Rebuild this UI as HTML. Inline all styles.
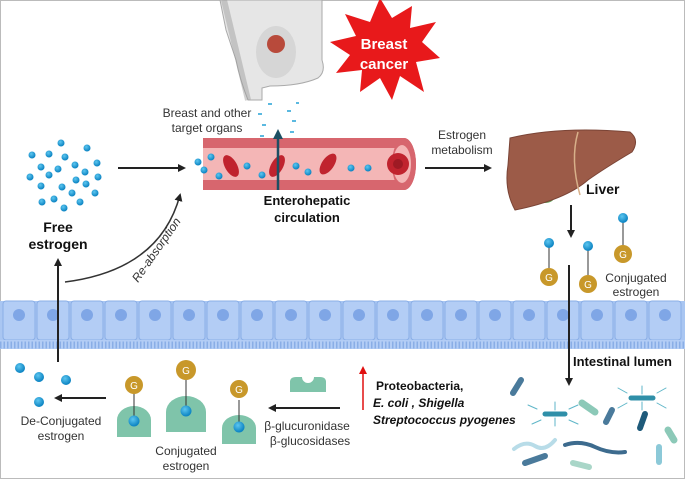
<!DOCTYPE html>
<html><head><meta charset="utf-8"><style>
html,body{margin:0;padding:0;background:#fff}
svg{display:block;font-family:"Liberation Sans",sans-serif}
</style></head><body>
<svg width="685" height="479" viewBox="0 0 685 479" xmlns="http://www.w3.org/2000/svg">
<defs>
<marker id="ah" markerWidth="8" markerHeight="8" refX="6" refY="4" orient="auto" markerUnits="userSpaceOnUse"><path d="M0,0 L8,4 L0,8 Z" fill="#222"/></marker>
<marker id="ahb" markerWidth="10" markerHeight="10" refX="7" refY="5" orient="auto" markerUnits="userSpaceOnUse"><path d="M0,0 L10,5 L0,10 Z" fill="#1d4f63"/></marker>
<marker id="ahr" markerWidth="8" markerHeight="8" refX="6" refY="4" orient="auto" markerUnits="userSpaceOnUse"><path d="M0,0 L8,4 L0,8 Z" fill="#e01010"/></marker>
<radialGradient id="dot" cx="40%" cy="35%" r="60%"><stop offset="0" stop-color="#5cc6f0"/><stop offset="1" stop-color="#0f86c4"/></radialGradient>
</defs>
<rect x="0.5" y="0.5" width="684" height="478" fill="#fff" stroke="#bbb"/>

<!-- breast -->
<path d="M220,0 L322,0 L322,60 Q326,72 318,78 Q300,86 270,86 L262,88 L262,100 L248,100 Q240,80 236,60 L226,30 Z" fill="#e6e6e6" stroke="#aaa"/>
<path d="M224,0 L236,50 L248,100" fill="none" stroke="#999" stroke-width="6" opacity="0.45"/>
<ellipse cx="276" cy="52" rx="20" ry="26" fill="#d6d6d6"/>
<circle cx="276" cy="44" r="9" fill="#b84a3b"/>
<!-- starburst -->
<polygon fill="#e8191b" points="380,-2 392,18 412,6 410,28 436,22 422,42 440,58 416,62 424,92 400,76 392,100 380,78 360,92 362,70 336,73 350,55 330,42 356,36 345,14 370,22" />
<text x="384" y="49" fill="#fff" font-weight="bold" font-size="15" text-anchor="middle">Breast</text>
<text x="384" y="69" fill="#fff" font-weight="bold" font-size="15" text-anchor="middle">cancer</text>

<!-- scatter dashes -->
<g fill="#5bb9e0">
<rect x="258" y="113" width="4" height="2"/><rect x="262" y="124" width="4" height="2"/><rect x="260" y="135" width="4" height="2"/><rect x="268" y="103" width="4" height="2"/><rect x="292" y="120" width="4" height="2"/><rect x="290" y="131" width="4" height="2"/><rect x="287" y="110" width="4" height="2"/><rect x="296" y="102" width="3" height="2"/><rect x="265" y="145" width="4" height="2"/><rect x="287" y="145" width="4" height="2"/><rect x="272" y="165" width="4" height="2"/>
</g>

<text x="207" y="117" font-size="12" fill="#333" text-anchor="middle">Breast and other</text>
<text x="207" y="132" font-size="12" fill="#333" text-anchor="middle">target organs</text>

<!-- vessel -->
<path d="M203,138 H404 A12,26 0 0 1 404,190 H203 Z" fill="#d7666e"/>
<rect x="203" y="148" width="200" height="32" fill="#f4b6b6"/>
<ellipse cx="404" cy="164" rx="12" ry="26" fill="#d7666e"/>
<ellipse cx="402" cy="164" rx="9" ry="19" fill="#f4b6b6"/>
<circle cx="398" cy="164" r="11" fill="#c0232e"/><circle cx="398" cy="164" r="5" fill="#9e1a24"/>
<g fill="#c0232e">
<ellipse cx="231" cy="166" rx="6" ry="12" transform="rotate(-30 231 166)"/>
<ellipse cx="277" cy="166" rx="6" ry="12" transform="rotate(30 277 166)"/>
<ellipse cx="328" cy="164" rx="6" ry="12" transform="rotate(35 328 164)"/>
</g>
<g fill="url(#dot)">
<circle cx="198" cy="162" r="3.5"/><circle cx="211" cy="157" r="3.5"/><circle cx="204" cy="170" r="3.5"/><circle cx="219" cy="176" r="3.5"/><circle cx="247" cy="166" r="3.5"/><circle cx="262" cy="175" r="3.5"/><circle cx="296" cy="166" r="3.5"/><circle cx="308" cy="172" r="3.5"/><circle cx="351" cy="168" r="3.5"/><circle cx="368" cy="168" r="3.5"/>
</g>
<line x1="278" y1="190" x2="278" y2="132" stroke="#1d4f63" stroke-width="2.5" marker-end="url(#ahb)"/>
<text x="307" y="205" font-size="13" font-weight="bold" fill="#111" text-anchor="middle">Enterohepatic</text>
<text x="307" y="222" font-size="13" font-weight="bold" fill="#111" text-anchor="middle">circulation</text>

<!-- free estrogen dots -->
<g fill="url(#dot)">
<circle cx="61" cy="143" r="3.5"/><circle cx="87" cy="148" r="3.5"/><circle cx="32" cy="155" r="3.5"/><circle cx="49" cy="154" r="3.5"/><circle cx="65" cy="157" r="3.5"/><circle cx="75" cy="165" r="3.5"/><circle cx="97" cy="163" r="3.5"/><circle cx="41" cy="167" r="3.5"/><circle cx="58" cy="169" r="3.5"/><circle cx="85" cy="172" r="3.5"/><circle cx="98" cy="177" r="3.5"/><circle cx="30" cy="177" r="3.5"/><circle cx="49" cy="175" r="3.5"/><circle cx="76" cy="180" r="3.5"/><circle cx="41" cy="186" r="3.5"/><circle cx="62" cy="187" r="3.5"/><circle cx="86" cy="184" r="3.5"/><circle cx="95" cy="193" r="3.5"/><circle cx="54" cy="199" r="3.5"/><circle cx="72" cy="193" r="3.5"/><circle cx="42" cy="202" r="3.5"/><circle cx="80" cy="202" r="3.5"/><circle cx="64" cy="208" r="3.5"/>
</g>
<line x1="118" y1="168" x2="184" y2="168" stroke="#222" stroke-width="2" marker-end="url(#ah)"/>

<text x="58" y="232" font-size="14" font-weight="bold" fill="#111" text-anchor="middle">Free</text>
<text x="58" y="249" font-size="14" font-weight="bold" fill="#111" text-anchor="middle">estrogen</text>

<!-- re-absorption -->
<path d="M65,282 Q160,270 180,195" fill="none" stroke="#333" stroke-width="1.5" marker-end="url(#ah)"/>
<text x="0" y="0" font-size="12" font-style="italic" fill="#333" transform="translate(138,283) rotate(-55)">Re-absorption</text>

<!-- estrogen metabolism -->
<text x="462" y="139" font-size="12" fill="#333" text-anchor="middle">Estrogen</text>
<text x="462" y="154" font-size="12" fill="#333" text-anchor="middle">metabolism</text>
<line x1="425" y1="168" x2="490" y2="168" stroke="#222" stroke-width="2" marker-end="url(#ah)"/>

<!-- liver -->
<ellipse cx="545" cy="196" rx="10" ry="7" fill="#62a45a"/>
<path d="M510,138 Q560,126 630,132 Q640,140 632,152 Q605,168 588,180 Q565,200 515,210 Q504,190 508,165 Z" fill="#9c5b48" stroke="#7a4436"/>
<path d="M578,132 Q570,160 580,195" fill="none" stroke="#d8b08a" stroke-width="1.5"/>
<text x="586" y="194" font-size="14" font-weight="bold" fill="#111">Liver</text>
<line x1="571" y1="205" x2="571" y2="236" stroke="#222" stroke-width="2" marker-end="url(#ah)"/>

<!-- conjugated estrogen top right -->
<g stroke="#333" stroke-width="1">
<line x1="549" y1="243" x2="549" y2="268"/><line x1="588" y1="246" x2="588" y2="275"/><line x1="623" y1="218" x2="623" y2="247"/>
</g>
<g fill="url(#dot)"><circle cx="549" cy="243" r="5"/><circle cx="588" cy="246" r="5"/><circle cx="623" cy="218" r="5"/></g>
<g fill="#c8982a"><circle cx="549" cy="277" r="9"/><circle cx="588" cy="284" r="9"/><circle cx="623" cy="254" r="9"/></g>
<g fill="#fff" font-size="10" text-anchor="middle"><text x="549" y="281">G</text><text x="588" y="288">G</text><text x="623" y="258">G</text></g>
<text x="636" y="282" font-size="12" fill="#333" text-anchor="middle">Conjugated</text>
<text x="636" y="296" font-size="12" fill="#333" text-anchor="middle">estrogen</text>

<!-- epithelium -->
<rect x="0" y="301" width="685" height="40" fill="#a9c6f2"/>
<g fill="#b3cdf5" stroke="#8aaee6" stroke-width="1">
<rect x="3" y="301" width="32" height="39" rx="3"/><rect x="37" y="301" width="32" height="39" rx="3"/><rect x="71" y="301" width="32" height="39" rx="3"/><rect x="105" y="301" width="32" height="39" rx="3"/><rect x="139" y="301" width="32" height="39" rx="3"/><rect x="173" y="301" width="32" height="39" rx="3"/><rect x="207" y="301" width="32" height="39" rx="3"/><rect x="241" y="301" width="32" height="39" rx="3"/><rect x="275" y="301" width="32" height="39" rx="3"/><rect x="309" y="301" width="32" height="39" rx="3"/><rect x="343" y="301" width="32" height="39" rx="3"/><rect x="377" y="301" width="32" height="39" rx="3"/><rect x="411" y="301" width="32" height="39" rx="3"/><rect x="445" y="301" width="32" height="39" rx="3"/><rect x="479" y="301" width="32" height="39" rx="3"/><rect x="513" y="301" width="32" height="39" rx="3"/><rect x="547" y="301" width="32" height="39" rx="3"/><rect x="581" y="301" width="32" height="39" rx="3"/><rect x="615" y="301" width="32" height="39" rx="3"/><rect x="649" y="301" width="32" height="39" rx="3"/>
</g>
<g fill="#7fa6e6">
<circle cx="19" cy="315" r="6"/><circle cx="53" cy="315" r="6"/><circle cx="87" cy="315" r="6"/><circle cx="121" cy="315" r="6"/><circle cx="155" cy="315" r="6"/><circle cx="189" cy="315" r="6"/><circle cx="223" cy="315" r="6"/><circle cx="257" cy="315" r="6"/><circle cx="291" cy="315" r="6"/><circle cx="325" cy="315" r="6"/><circle cx="359" cy="315" r="6"/><circle cx="393" cy="315" r="6"/><circle cx="427" cy="315" r="6"/><circle cx="461" cy="315" r="6"/><circle cx="495" cy="315" r="6"/><circle cx="529" cy="315" r="6"/><circle cx="563" cy="315" r="6"/><circle cx="597" cy="315" r="6"/><circle cx="631" cy="315" r="6"/><circle cx="665" cy="315" r="6"/>
</g>
<rect x="0" y="340" width="685" height="9" fill="#b3cdf5"/>
<path d="M0,345 H685" stroke="#8aaee6" stroke-width="7" stroke-dasharray="1.5,2"/>

<!-- big down arrow -->
<line x1="569" y1="265" x2="569" y2="384" stroke="#222" stroke-width="2" marker-end="url(#ah)"/>
<text x="573" y="366" font-size="13" font-weight="bold" fill="#111">Intestinal lumen</text>

<!-- left up arrow -->
<line x1="58" y1="362" x2="58" y2="260" stroke="#222" stroke-width="2" marker-end="url(#ah)"/>

<!-- deconjugated dots -->
<g fill="url(#dot)"><circle cx="20" cy="368" r="5"/><circle cx="39" cy="377" r="5"/><circle cx="66" cy="380" r="5"/><circle cx="39" cy="402" r="5"/></g>
<line x1="106" y1="398" x2="56" y2="398" stroke="#222" stroke-width="2" marker-end="url(#ah)"/>
<text x="61" y="425" font-size="12" fill="#333" text-anchor="middle">De-Conjugated</text>
<text x="61" y="440" font-size="12" fill="#333" text-anchor="middle">estrogen</text>

<!-- enzymes with conjugates -->
<g fill="#7fc4aa">
<path d="M117,437 V420 A17,14 0 0 1 151,420 V437 Z"/>
<path d="M166,432 V412 A20,16 0 0 1 206,412 V432 Z"/>
<path d="M222,444 V428 A17,13 0 0 1 256,428 V444 Z"/>
<path d="M290,392 V382 Q290,377 296,377 L302,377 A6,6 0 0 0 314,377 L320,377 Q326,377 326,382 V392 Z"/>
</g>
<g stroke="#333" stroke-width="1"><line x1="134" y1="392" x2="134" y2="420"/><line x1="186" y1="378" x2="186" y2="411"/><line x1="239" y1="400" x2="239" y2="426"/></g>
<g fill="url(#dot)"><circle cx="134" cy="421" r="5.5"/><circle cx="186" cy="411" r="5.5"/><circle cx="239" cy="427" r="5.5"/></g>
<g fill="#c8982a"><circle cx="134" cy="385" r="9"/><circle cx="186" cy="370" r="10"/><circle cx="239" cy="389" r="9"/></g>
<g fill="#fff" font-size="10" text-anchor="middle"><text x="134" y="389">G</text><text x="186" y="374">G</text><text x="239" y="393">G</text></g>
<text x="186" y="455" font-size="12" fill="#333" text-anchor="middle">Conjugated</text>
<text x="186" y="470" font-size="12" fill="#333" text-anchor="middle">estrogen</text>

<line x1="340" y1="408" x2="270" y2="408" stroke="#222" stroke-width="2" marker-end="url(#ah)"/>
<text x="307" y="430" font-size="12" fill="#333" text-anchor="middle">β-glucuronidase</text>
<text x="310" y="445" font-size="12" fill="#333" text-anchor="middle">β-glucosidases</text>

<line x1="363" y1="410" x2="363" y2="368" stroke="#e01010" stroke-width="1.5" marker-end="url(#ahr)"/>
<text x="376" y="390" font-size="12" font-weight="bold" fill="#111">Proteobacteria,</text>
<text x="373" y="407" font-size="12" font-weight="bold" font-style="italic" fill="#111">E. coli , Shigella</text>
<text x="373" y="424" font-size="12" font-weight="bold" font-style="italic" fill="#111">Streptococcus pyogenes</text>

<!-- bacteria -->
<g stroke-linecap="round" fill="none">
<line x1="513" y1="393" x2="521" y2="380" stroke="#4a7a9b" stroke-width="6"/>
<line x1="582" y1="403" x2="595" y2="412" stroke="#8cc9b8" stroke-width="7"/>
<line x1="545" y1="414" x2="565" y2="414" stroke="#2f8fa8" stroke-width="5"/>
<line x1="631" y1="398" x2="653" y2="398" stroke="#2f8fa8" stroke-width="5"/>
<line x1="612" y1="410" x2="606" y2="422" stroke="#4a7a9b" stroke-width="6"/>
<line x1="645" y1="414" x2="640" y2="428" stroke="#1e5a7a" stroke-width="6"/>
<line x1="668" y1="430" x2="674" y2="440" stroke="#8cc9b8" stroke-width="7"/>
<line x1="525" y1="463" x2="545" y2="456" stroke="#4a7a9b" stroke-width="6"/>
<line x1="573" y1="463" x2="589" y2="467" stroke="#a9d6c8" stroke-width="6"/>
<line x1="659" y1="447" x2="659" y2="462" stroke="#8cc9d8" stroke-width="6"/>
<path d="M565,445 Q580,440 595,447 T625,452" stroke="#3d6b8e" stroke-width="4"/>
<path d="M514,449 Q525,440 535,446 T555,440" stroke="#b8dce8" stroke-width="4"/>
<path d="M537,409 L528,405 M541,420 L532,424 M569,409 L578,405 M569,420 L578,424 M555,410 L555,402 M555,418 L555,426" stroke="#5fb6c8" stroke-width="1"/>
<path d="M627,393 L618,388 M627,403 L618,408 M657,393 L666,388 M657,403 L666,408 M642,394 L642,386 M642,402 L642,410" stroke="#5fb6c8" stroke-width="1"/>
</g>
</svg>
</body></html>
